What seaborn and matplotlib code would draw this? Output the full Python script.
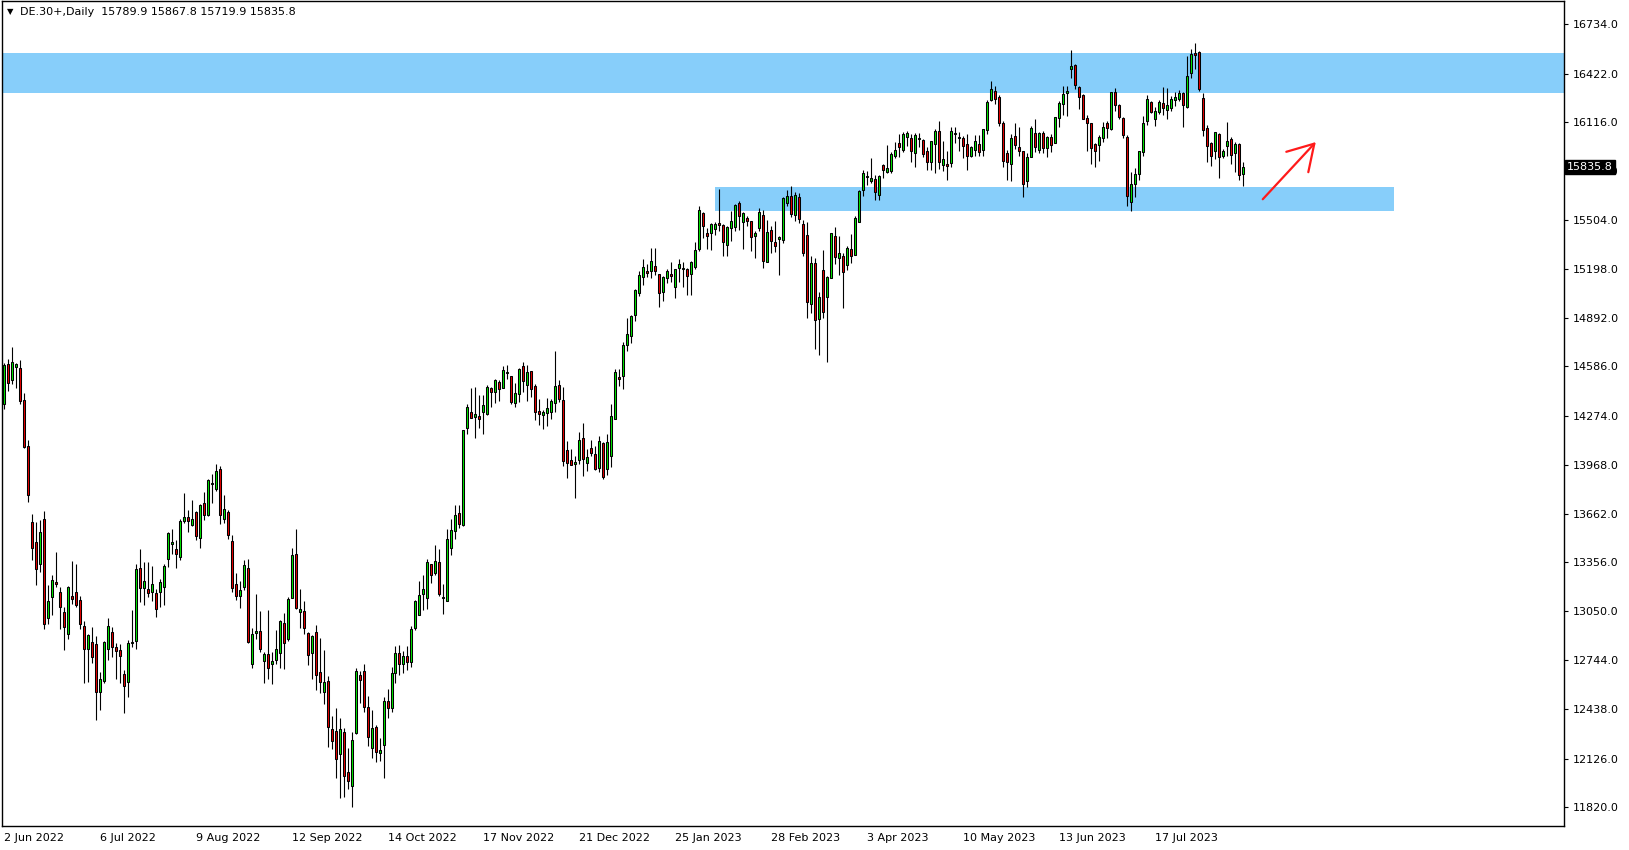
import matplotlib
matplotlib.use("Agg")
import matplotlib.pyplot as plt
import matplotlib.transforms as mtransforms
import seaborn as sns
import numpy as np

# DE.30+ daily candles, 2 Jun 2022 -> mid Aug 2023
opens = [14351, 14601, 14501, 14583, 14576, 14376, 14088, 13608, 13486, 13349,
         13631, 13010, 13142, 13236, 13173, 13048, 12908, 13144, 13173, 13119,
         12960, 12810, 12856, 12843, 12545, 12614, 12814, 12919, 12823, 12806,
         12655, 12609, 12848, 12864, 13324, 13198, 13192, 13171, 13167, 13171,
         13205, 13380, 13474, 13438, 13390, 13616, 13643, 13593, 13670, 13512,
         13727, 13656, 13848, 13816, 13944, 13631, 13670, 13489, 13223, 13148,
         13205, 13319, 12718, 12916, 12929, 12739, 12779, 12716, 12747, 12785,
         12979, 12873, 13136, 13411, 13046, 13050, 12912, 12791, 12918, 12668,
         12545, 12614, 12311, 12298, 12152, 12292, 12042, 11952, 12284, 12653,
         12678, 12449, 12190, 12323, 12158, 12211, 12486, 12440, 12660, 12790,
         12720, 12770, 12730, 12946, 13029, 13161, 13136, 13349, 13292, 13361,
         13136, 13117, 13449, 13551, 13668, 13589, 14201, 14301, 14269, 14276,
         14301, 14284, 14451, 14426, 14489, 14451, 14545, 14526, 14357, 14414,
         14589, 14470, 14558, 14460, 14307, 14282, 14292, 14299, 14357, 14470,
         14376, 14063, 14000, 13975, 14000, 14138, 13981, 14075, 14038, 13948,
         14102, 13940, 14023, 14257, 14522, 14526, 14720, 14777, 14906, 15044,
         15144, 15186, 15182, 15215, 15165, 15052, 15140, 15165, 15082, 15203,
         15195, 15197, 15163, 15207, 15322, 15547, 15422, 15424, 15445, 15487,
         15472, 15349, 15455, 15462, 15610, 15489, 15514, 15497, 15401, 15451,
         15535, 15240, 15441, 15368, 15382, 15378, 15610, 15654, 15535, 15648,
         15478, 15410, 14977, 15234, 14883, 15190, 15019, 15140, 15403, 15263,
         15280, 15222, 15324, 15282, 15491, 15691, 15771, 15750, 15760, 15660,
         15848, 15804, 15808, 15902, 15988, 15944, 16021, 16017, 15921, 16009,
         16007, 15936, 15869, 15980, 16061, 15848, 15854, 15861, 16040, 16019,
         16017, 15980, 15902, 15944, 15980, 15942, 16067, 16255, 16314, 16278,
         16115, 15923, 15854, 16030, 15961, 15936, 15748, 15898, 16048, 15944,
         16048, 15954, 16023, 15986, 16142, 16230, 16297, 16449, 16474, 16337,
         16289, 16142, 16111, 15980, 15973, 16017, 16115, 16073, 16307, 16224,
         16144, 16025, 15614, 15727, 15790, 15927, 16122, 16245, 16140, 16178,
         16236, 16193, 16203, 16255, 16261, 16301, 16213, 16424, 16548, 16558,
         16270, 16080, 15988, 15936, 16046, 15904, 15965, 16011, 15921, 15980,
         15789.9]
highs = [14606, 14633, 14710, 14605, 14627, 14420, 14125, 13658, 13608, 13620,
         13676, 13213, 13276, 13420, 13202, 13077, 13209, 13363, 13344, 13148,
         12990, 12910, 12948, 12893, 12668, 12862, 13006, 12952, 12848, 12843,
         12680, 12868, 13056, 13349, 13438, 13357, 13357, 13332, 13192, 13251,
         13349, 13549, 13564, 13499, 13631, 13791, 13687, 13745, 13676, 13725,
         13796, 13879, 13912, 13971, 13958, 13777, 13683, 13526, 13292, 13238,
         13370, 13376, 12942, 13157, 13050, 12795, 13056, 12795, 12931, 12992,
         13038, 13138, 13445, 13568, 13192, 13113, 12920, 12900, 12962, 12883,
         12806, 12641, 12394, 12440, 12382, 12315, 12190, 12292, 12691, 12674,
         12720, 12518, 12430, 12336, 12257, 12511, 12560, 12700, 12830, 12840,
         12800, 12830, 12960, 13119, 13238, 13280, 13376, 13349, 13463, 13438,
         13219, 13564, 13631, 13718, 13714, 14188, 14351, 14453, 14459, 14403,
         14403, 14470, 14459, 14507, 14503, 14591, 14597, 14526, 14482, 14574,
         14616, 14595, 14558, 14472, 14378, 14309, 14389, 14378, 14679, 14497,
         14455, 14115, 14069, 14021, 14174, 14228, 14069, 14125, 14084, 14146,
         14109, 14159, 14351, 14572, 14570, 14737, 14890, 14908, 15071, 15186,
         15259, 15228, 15328, 15328, 15165, 15155, 15197, 15238, 15197, 15259,
         15238, 15203, 15249, 15364, 15593, 15552, 15453, 15483, 15489, 15698,
         15476, 15464, 15562, 15604, 15625, 15552, 15531, 15499, 15437, 15579,
         15566, 15503, 15468, 15499, 15405, 15650, 15691, 15719, 15681, 15675,
         15503, 15491, 15278, 15263, 15055, 15318, 15155, 15422, 15458, 15403,
         15297, 15341, 15416, 15531, 15691, 15817, 15813, 15892, 15785, 15785,
         15854, 15975, 15929, 15992, 16046, 16057, 16063, 16042, 16051, 16051,
         16011, 15963, 16000, 16074, 16126, 16000, 15938, 16084, 16084, 16057,
         16032, 16042, 15969, 16036, 16036, 16074, 16255, 16376, 16345, 16287,
         16126, 15944, 16042, 16113, 16088, 15936, 15923, 16094, 16138, 16055,
         16059, 16032, 16042, 16149, 16251, 16347, 16341, 16570, 16479, 16343,
         16293, 16165, 16111, 15984, 16036, 16119, 16126, 16309, 16332, 16230,
         16151, 16038, 15806, 15827, 15938, 16153, 16287, 16251, 16213, 16257,
         16339, 16330, 16282, 16307, 16318, 16309, 16533, 16575, 16616, 16564,
         16303, 16099, 15994, 16055, 16049, 15948, 16120, 16021, 15994, 15984,
         15867.8]
lows = [14320, 14430, 14476, 14451, 14351, 14075, 13735, 13370, 13213, 13296,
        12939, 12971, 13025, 13202, 12939, 12808, 12877, 13098, 13077, 12939,
        12597, 12603, 12726, 12367, 12430, 12597, 12743, 12760, 12628, 12601,
        12413, 12513, 12823, 12810, 13109, 13086, 13140, 13115, 13015, 13077,
        13086, 13328, 13411, 13324, 13370, 13603, 13547, 13583, 13499, 13447,
        13624, 13647, 13731, 13804, 13599, 13603, 13505, 13171, 13119, 13073,
        13186, 12852, 12697, 12873, 12793, 12597, 12628, 12591, 12720, 12695,
        12685, 12864, 13134, 13065, 12946, 12904, 12712, 12622, 12553, 12534,
        12465, 12196, 12184, 12002, 11877, 11887, 11935, 11824, 12280, 12472,
        12420, 12207, 12131, 12106, 12110, 12006, 12380, 12420, 12600, 12650,
        12660, 12680, 12700, 12931, 13025, 13056, 13067, 13230, 13276, 13146,
        13035, 13117, 13405, 13505, 13572, 13585, 14161, 14261, 14136, 14198,
        14161, 14278, 14330, 14357, 14370, 14451, 14507, 14351, 14330, 14361,
        14424, 14368, 14393, 14251, 14217, 14192, 14211, 14255, 14299, 14361,
        13960, 13885, 13967, 13760, 13975, 13898, 13927, 14021, 13933, 13923,
        13879, 13902, 13954, 14257, 14460, 14443, 14681, 14731, 14873, 15030,
        15098, 15144, 15140, 15161, 14956, 14994, 15107, 15113, 15015, 15113,
        15082, 15034, 15036, 15197, 15307, 15391, 15322, 15316, 15410, 15437,
        15276, 15280, 15370, 15437, 15441, 15322, 15468, 15307, 15263, 15437,
        15203, 15240, 15299, 15301, 15159, 15357, 15591, 15520, 15495, 15487,
        15278, 14890, 14919, 14693, 14658, 14888, 14612, 15140, 15228, 15161,
        14950, 15190, 15234, 15282, 15491, 15652, 15723, 15733, 15627, 15631,
        15765, 15796, 15800, 15892, 15896, 15932, 15969, 15865, 15833, 15963,
        15896, 15817, 15817, 15798, 15823, 15813, 15754, 15833, 15984, 15938,
        15892, 15819, 15900, 15906, 15906, 15906, 16042, 16251, 16230, 16092,
        15833, 15754, 15750, 15946, 15906, 15645, 15712, 15896, 15931, 15921,
        15923, 15896, 15927, 15986, 16084, 16163, 16157, 16397, 16322, 16201,
        16136, 15934, 15852, 15833, 15875, 15990, 16017, 16067, 16184, 16134,
        16015, 15593, 15558, 15646, 15756, 15902, 16099, 16174, 16090, 16170,
        16165, 16140, 16188, 16220, 16249, 16084, 16209, 16397, 16449, 16314,
        16032, 15869, 15844, 15886, 15765, 15890, 15906, 15854, 15802, 15754,
        15719.9]
closes = [14597, 14482, 14614, 14601, 14368, 14079, 13781, 13449, 13315, 13549,
          12971, 13117, 13244, 13221, 13077, 12948, 13205, 13127, 13088, 12971,
          12816, 12898, 12766, 12541, 12628, 12856, 12956, 12823, 12801, 12770,
          12584, 12848, 12854, 13313, 13198, 13238, 13165, 13223, 13067, 13236,
          13332, 13539, 13482, 13411, 13618, 13643, 13618, 13631, 13522, 13718,
          13656, 13875, 13852, 13929, 13656, 13693, 13530, 13198, 13148, 13186,
          13342, 12854, 12904, 12925, 12810, 12781, 12691, 12737, 12810, 12987,
          12852, 13125, 13405, 13071, 13067, 12942, 12777, 12893, 12653, 12607,
          12605, 12321, 12238, 12121, 12311, 12019, 11987, 12240, 12674, 12616,
          12447, 12259, 12315, 12165, 12177, 12486, 12440, 12660, 12790, 12720,
          12770, 12730, 12940, 13113, 13150, 13188, 13357, 13276, 13367, 13155,
          13138, 13505, 13562, 13656, 13599, 14188, 14332, 14263, 14288, 14255,
          14345, 14457, 14426, 14497, 14445, 14564, 14551, 14361, 14420, 14566,
          14493, 14551, 14445, 14299, 14286, 14297, 14326, 14370, 14464, 14380,
          13992, 13981, 13969, 13988, 14125, 14004, 14019, 14042, 13940, 14119,
          13892, 14113, 14276, 14551, 14505, 14720, 14789, 14902, 15065, 15159,
          15209, 15169, 15247, 15182, 15046, 15149, 15184, 15151, 15197, 15228,
          15203, 15151, 15240, 15316, 15566, 15464, 15403, 15476, 15479, 15472,
          15366, 15460, 15497, 15598, 15531, 15547, 15497, 15399, 15422, 15556,
          15249, 15428, 15372, 15339, 15399, 15641, 15654, 15541, 15660, 15508,
          15297, 14988, 15234, 14875, 15023, 14925, 15149, 15422, 15270, 15297,
          15176, 15326, 15278, 15516, 15685, 15798, 15779, 15767, 15681, 15779,
          15817, 15831, 15917, 15942, 15959, 16046, 16051, 15936, 16036, 16017,
          15917, 15865, 15998, 16063, 15869, 15886, 15840, 16061, 16051, 16023,
          15965, 15902, 15961, 15998, 15927, 16074, 16243, 16328, 16261, 16111,
          15873, 15865, 16017, 15973, 15938, 15727, 15898, 16080, 15959, 16048,
          15954, 16023, 15973, 16149, 16238, 16293, 16312, 16470, 16349, 16274,
          16138, 16111, 15952, 15934, 16021, 16086, 16078, 16307, 16222, 16147,
          16036, 15652, 15729, 15794, 15938, 16111, 16261, 16178, 16186, 16245,
          16203, 16224, 16261, 16276, 16299, 16222, 16406, 16543, 16541, 16328,
          16065, 15967, 15904, 16055, 15898, 15936, 15998, 15911, 15982, 15785,
          15835.8]

date_labels = ["2 Jun 2022", "6 Jul 2022", "9 Aug 2022", "12 Sep 2022", "14 Oct 2022",
               "17 Nov 2022", "21 Dec 2022", "25 Jan 2023", "28 Feb 2023", "3 Apr 2023",
               "10 May 2023", "13 Jun 2023", "17 Jul 2023"]
bars_per_label = 24
price_ticks = [11820, 12126, 12438, 12744, 13050, 13356, 13662, 13968, 14274,
               14586, 14892, 15198, 15504, 15810, 16116, 16422, 16734]

# resistance / support zones and the hand drawn arrow
upper_zone = (16297, 16552)
lower_zone = (15562, 15712)
lower_zone_bars = (177.9, 347.8)
arrow_from = (314.4, 15621)
arrow_to = (328.6, 16005)

sns.set_theme(style="white")
plt.rcParams["font.family"] = ["DejaVu Sans"]

o = np.array(opens, dtype=float)
h = np.array(highs, dtype=float)
l = np.array(lows, dtype=float)
c = np.array(closes, dtype=float)
x = np.arange(len(c))

fig = plt.figure(figsize=(16.29, 8.5), dpi=100)
ax = fig.add_axes([2 / 1629, 24 / 850, 1562 / 1629, 825 / 850])

# zones behind the candles
ax.axhspan(upper_zone[0], upper_zone[1], color="#87cefa", lw=0, zorder=0)
ax.fill_between(lower_zone_bars, lower_zone[0], lower_zone[1], color="#87cefa", lw=0, zorder=0)

# wicks + bodies
ax.vlines(x, l, h, color="black", lw=0.8, zorder=2)
up = c >= o
body_col = np.where(up, "#00e600", "#e60000")
body_h = np.maximum(np.abs(c - o), 1.0)
ax.bar(x, body_h, bottom=np.minimum(o, c), width=0.5, color=body_col,
       edgecolor="black", linewidth=0.75, zorder=3)

# red arrow, open head like the hand drawn one
ax.annotate("", xy=arrow_to, xytext=arrow_from,
            arrowprops=dict(arrowstyle="->,head_length=1.5,head_width=0.9",
                            color="#ff1a1a", lw=1.6), zorder=4)

ax.set_xlim(-0.4, 390.2)
ax.set_ylim(11703, 16877)

# axes in MT4 look
for s in ax.spines.values():
    s.set_color("black")
    s.set_linewidth(1.0)
ax.yaxis.tick_right()
ax.set_yticks(price_ticks)
ax.set_yticklabels([f"{p:.1f}" for p in price_ticks], fontsize=8)
ax.tick_params(axis="y", direction="out", length=3, width=0.8, pad=3, colors="black")
ax.set_xticks(np.arange(len(date_labels)) * bars_per_label)
ax.set_xticklabels(date_labels, fontsize=8, ha="left")
ax.tick_params(axis="x", direction="out", length=3, width=0.8, pad=2, colors="black")
ax.grid(False)

# last price tag on the price scale
trans = mtransforms.blended_transform_factory(ax.transAxes, ax.transData)
ax.text(1.002, closes[-1], f"{closes[-1]:.1f}", transform=trans, fontsize=8,
        color="white", ha="left", va="center", zorder=10,
        bbox=dict(boxstyle="square,pad=0.15", fc="black", ec="black"))

# symbol header
fig.text(7 / 1629, 1 - 12 / 850, "▼", fontsize=6, color="black", va="center", ha="left")
fig.text(20 / 1629, 1 - 12 / 850,
         f"DE.30+,Daily  {opens[-1]:.1f} {highs[-1]:.1f} {lows[-1]:.1f} {closes[-1]:.1f}",
         fontsize=8, color="black", va="center", ha="left")

fig.savefig("out.png", dpi=100, facecolor="white")
